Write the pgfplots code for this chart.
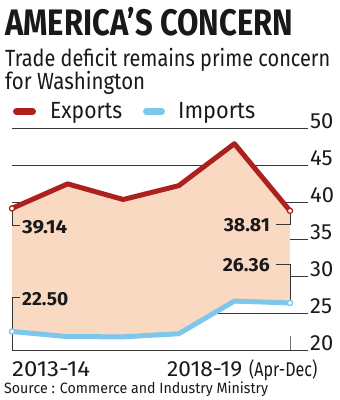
\documentclass[border=0pt]{standalone}
\usepackage{fontspec}
\setmainfont{Fira Sans}
\usepackage{graphicx}
\usepackage{pgfplots}
\pgfplotsset{compat=1.18}
\usepgfplotslibrary{fillbetween}
\definecolor{expred}{RGB}{172,33,30}
\definecolor{impblue}{RGB}{125,198,236}
\definecolor{peach}{RGB}{250,217,195}
\definecolor{txt}{RGB}{25,25,25}
\definecolor{gridc}{RGB}{55,55,55}
\newcommand{\fs}[1]{\fontsize{#1}{#1}\selectfont}
\newcommand{\wtext}[3]{\resizebox{#1bp}{\height}{\fs{#2}#3}}
\pgfplotstableread{
x exp imp
0 39.14 22.50
1 42.45 21.81
2 40.34 21.78
3 42.21 22.20
4 47.88 26.61
5 38.81 26.36
}\trade
\begin{document}
\begin{tikzpicture}
\begin{axis}[at={(12bp,-350bp)}, anchor=south west, scale only axis,
  width=296bp, height=222bp, xmin=0, xmax=5.324, ymin=20, ymax=50,
  set layers, clip=false,
  axis line style={draw=none}, xtick=\empty,
  ytick={20,25,30,35,40,45,50}, yticklabel pos=right,
  major tick length=0pt,
  ymajorgrids, grid style={gridc, line width=0.8bp},
  /pgf/number format/assume math mode=true,
  yticklabel style={anchor=base west, inner sep=0pt, xshift=2bp, font=\fs{22}, text=txt},
]
\addplot[name path=exp, expred, line width=5bp, line join=round,
  mark=*, mark indices={1,6}, mark size=2.6bp,
  mark options={fill=white, draw=expred, line width=1.3bp}] table[x=x,y=exp]{\trade};
\addplot[name path=imp, impblue, line width=5bp, line join=round,
  mark=*, mark indices={1,6}, mark size=2.6bp,
  mark options={fill=white, draw=impblue, line width=1.3bp}] table[x=x,y=imp]{\trade};
\addplot[peach, on layer=axis background] fill between[of=exp and imp];
% annotation brackets
\draw[gridc, line width=0.8bp] (axis cs:0,39.14) -- (axis cs:0,36.89) -- (axis cs:0.144,36.89);
\draw[gridc, line width=0.8bp] (axis cs:0,20) -- (axis cs:0,27.16) -- (axis cs:0.144,27.16);
\draw[gridc, line width=0.8bp] (axis cs:5,38.81) -- (axis cs:5,37.03) -- (axis cs:4.748,37.03);
\draw[gridc, line width=0.8bp] (axis cs:4.748,31.62) -- (axis cs:5,31.62) -- (axis cs:5,26.36);
\draw[gridc!70, line width=0.8bp] (axis cs:5,20) -- (axis cs:5,21.89);
\end{axis}
\begin{scope}[x=1bp,y=1bp]
\path (0,0) rectangle (340,-400);
% data labels
\node[anchor=base west, inner sep=0pt, text=txt] at (22,-233.3) {\wtext{45}{19}{\bfseries 39.14}};
\node[anchor=base west, inner sep=0pt, text=txt] at (22,-305) {\wtext{46}{19}{\bfseries 22.50}};
\node[anchor=base east, inner sep=0pt, text=txt] at (270,-231.7) {\wtext{46}{19}{\bfseries 38.81}};
\node[anchor=base east, inner sep=0pt, text=txt] at (270,-271.7) {\wtext{47}{19}{\bfseries 26.36}};
% titles
\node[anchor=base west, inner sep=0pt, text=txt] at (5,-35.5) {\wtext{288}{37}{\bfseries AMERICA’S CONCERN}};
\node[anchor=base west, inner sep=0pt, text=txt] at (5,-66.7) {\wtext{325}{23.5}{Trade deficit remains prime concern}};
\node[anchor=base west, inner sep=0pt, text=txt] at (5,-89.5) {\wtext{140}{23.5}{for Washington}};
% legend
\draw[expred, line width=7bp, line cap=round] (16.5,-111.5) -- (32.5,-111.5);
\node[anchor=base west, inner sep=0pt, text=txt] at (50,-118) {\wtext{72}{23.5}{Exports}};
\draw[impblue, line width=7bp, line cap=round] (146.5,-111.5) -- (161.5,-111.5);
\node[anchor=base west, inner sep=0pt, text=txt] at (178,-118) {\wtext{77}{23.5}{Imports}};
% x labels
\node[anchor=base west, inner sep=0pt, text=txt] at (12,-376.7) {\wtext{78}{22}{2013-14}};
\node[anchor=base west, inner sep=0pt, text=txt] at (167,-376.7) {\wtext{75}{22}{2018-19}};
\node[anchor=base west, inner sep=0pt, text=txt] at (249,-376.7) {\wtext{68}{20}{(Apr-Dec)}};
% source
\node[anchor=base west, inner sep=0pt, text=txt] at (4,-393) {\wtext{264}{15}{Source : Commerce and Industry Ministry}};
\end{scope}
\end{tikzpicture}
\end{document}
